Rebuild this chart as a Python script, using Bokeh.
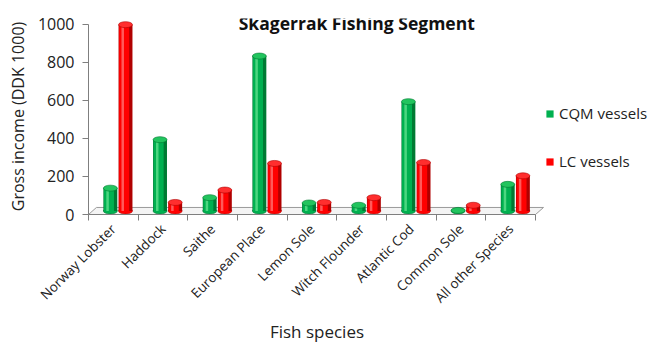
from bokeh.plotting import figure
from bokeh.models import (Range1d, FixedTicker, Legend, LegendItem, Label,
                          ColumnDataSource)
from bokeh.embed import file_html
from bokeh.resources import INLINE
import math

# ---- data ----
species = ["Norway Lobster", "Haddock", "Saithe", "European Place", "Lemon Sole",
           "Witch Flounder", "Atlantic Cod", "Common Sole", "All other Species"]
cqm = [120, 375, 70, 815, 42, 30, 575, 3, 140]
lc = [980, 45, 110, 250, 45, 70, 255, 30, 185]
y_ticks = [0, 200, 400, 600, 800, 1000]

FONT = "Open Sans"
n = len(species)
centers = [i + 0.5 for i in range(n)]

p = figure(frame_width=457, frame_height=196, output_backend="svg", toolbar_location=None,
           x_range=Range1d(0, 9.2), y_range=Range1d(0, 1031),
           min_border_left=88, min_border_right=104, min_border_top=18,
           min_border_bottom=134)
p.outline_line_color = None
p.grid.visible = False
p.background_fill_color = "white"
p.border_fill_color = "white"

# floor (3D effect)
dx, dy = 0.16, 37
p.patch([0, n, n + dx, dx], [0, 0, dy, dy], fill_color="#f4f4f4",
        line_color="#9a9a9a", line_width=1)
base = dy / 2.0
w = 0.28


def cylinders(xs, vals, main, dark, light, top):
    src = ColumnDataSource(dict(x=xs, bottom=[base] * len(vals),
                                top=[v + base for v in vals]))
    p.ellipse(x="x", y="bottom", width=w, height=6, height_units="screen",
              source=src, fill_color=main, line_color=dark, line_width=0.6)
    p.vbar(x="x", width=w, bottom="bottom", top="top", source=src,
           fill_color=dark, line_color=None)
    src2 = ColumnDataSource(dict(x=[x - w * 0.1 for x in xs], bottom=src.data["bottom"],
                                 top=src.data["top"]))
    rm = p.vbar(x="x", width=w * 0.72, bottom="bottom", top="top", source=src2,
                fill_color=main, line_color=None)
    src3 = ColumnDataSource(dict(x=[x - w * 0.2 for x in xs], bottom=src.data["bottom"],
                                 top=src.data["top"]))
    p.vbar(x="x", width=w * 0.18, bottom="bottom", top="top", source=src3,
           fill_color=light, line_color=None, fill_alpha=0.8)
    p.ellipse(x="x", y="top", width=w, height=6, height_units="screen",
              source=src, fill_color=top, line_color=dark, line_width=0.6)
    return rm


rg = cylinders([c - 0.06 for c in centers], cqm, "#00b050", "#007a33", "#5fe08c",
               "#22c45e")
rr = cylinders([c + 0.245 for c in centers], lc, "#ff0000", "#b00000", "#ff7070",
               "#ff2e2e")

# axes
xa = p.xaxis[0]
xa.ticker = FixedTicker(ticks=centers, minor_ticks=list(range(n + 1)))
xa.major_label_overrides = {c: s for c, s in zip(centers, species)}
xa.major_label_orientation = math.pi / 4
xa.major_tick_out = 0
xa.major_tick_in = 0
xa.minor_tick_out = 6
xa.minor_tick_in = 0
xa.minor_tick_line_color = "#7f7f7f"
xa.axis_line_color = "#7f7f7f"
xa.bounds = (0, n)
xa.major_label_text_font = FONT
xa.major_label_text_font_size = "13.5px"
xa.major_label_text_color = "#222222"
xa.major_label_standoff = 6
xa.axis_label = "Fish species"
xa.axis_label_text_font = FONT
xa.axis_label_text_font_size = "17px"
xa.axis_label_text_font_style = "normal"
xa.axis_label_text_color = "#222222"
xa.axis_label_standoff = 4

ya = p.yaxis[0]
ya.ticker = FixedTicker(ticks=y_ticks)
ya.bounds = (0, 1000)
ya.minor_tick_line_color = None
ya.major_tick_out = 6
ya.major_tick_in = 0
ya.major_tick_line_color = "#7f7f7f"
ya.axis_line_color = "#7f7f7f"
ya.major_label_text_font = FONT
ya.major_label_text_font_size = "16px"
ya.major_label_text_color = "#222222"
ya.major_label_standoff = 8
ya.axis_label = "Gross income (DDK 1000)"
ya.axis_label_text_font = FONT
ya.axis_label_text_font_size = "16px"
ya.axis_label_text_font_style = "normal"
ya.axis_label_text_color = "#222222"
ya.axis_label_standoff = 6

# title
p.add_layout(Label(x=5.4, y=1005, text="Skagerrak Fishing Segment",
                   text_font=FONT, text_font_size="17.5px", text_font_style="bold",
                   text_align="center", text_baseline="middle", text_color="#111111"))

legend = Legend(items=[LegendItem(label="CQM vessels", renderers=[rg]),
                       LegendItem(label="LC vessels", renderers=[rr])],
                location=(0, 43), glyph_width=9, glyph_height=9,
                label_text_font=FONT, label_text_font_size="15px",
                label_text_color="#222222", label_standoff=5, spacing=28,
                padding=0, margin=0, border_line_color=None,
                background_fill_alpha=0)
p.add_layout(legend, "right")

open("out.html", "w").write(file_html(p, INLINE))
